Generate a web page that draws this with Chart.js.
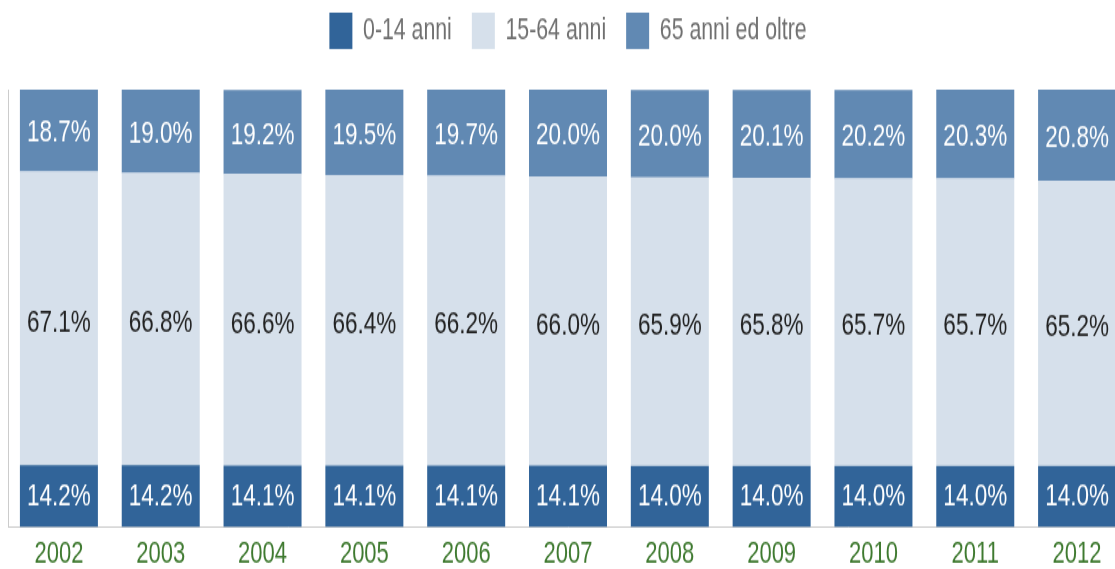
<!DOCTYPE html>
<html>
<head>
<meta charset="utf-8">
<script src="https://cdn.jsdelivr.net/npm/chart.js@4"></script>
<style>
  html, body { margin: 0; padding: 0; background: #ffffff; overflow: hidden; width: 1115px; height: 569px; }
  #wrap { position: absolute; left: 0; top: 0; width: 1128px; height: 407px; transform: scale(1, 1.4); transform-origin: 0 0; }
  canvas { display: block; }
</style>
</head>
<body>
<div id="wrap"><canvas id="c" width="1128" height="407"></canvas></div>
<script>
const years = ['2002','2003','2004','2005','2006','2007','2008','2009','2010','2011','2012'];
const age0to14 = [14.2, 14.2, 14.1, 14.1, 14.1, 14.1, 14.0, 14.0, 14.0, 14.0, 14.0];
const age15to64 = [67.1, 66.8, 66.6, 66.4, 66.2, 66.0, 65.9, 65.8, 65.7, 65.7, 65.2];
const age65plus = [18.7, 19.0, 19.2, 19.5, 19.7, 20.0, 20.0, 20.1, 20.2, 20.3, 20.8];
const seriesNames = ['0-14 anni', '15-64 anni', '65 anni ed oltre'];

const FONT = "'Liberation Sans', Arial, Helvetica, sans-serif";

const legendSpacer = {
  id: 'legendSpacer',
  beforeInit(chart) {
    const origFit = chart.legend.fit;
    chart.legend.fit = function () {
      origFit.call(this);
      this.height += 20;
    };
  }
};

const barLabels = {
  id: 'barLabels',
  afterDatasetsDraw(chart) {
    const ctx = chart.ctx;
    const colors = ['#ffffff', '#222222', '#ffffff'];
    const offsets = [0, 3, 2];
    ctx.save();
    ctx.font = '22.5px ' + FONT;
    ctx.textAlign = 'center';
    ctx.textBaseline = 'middle';
    chart.data.datasets.forEach((ds, i) => {
      const meta = chart.getDatasetMeta(i);
      meta.data.forEach((bar, j) => {
        const p = bar.getProps(['x', 'y', 'base'], true);
        ctx.fillStyle = colors[i];
        ctx.fillText(ds.data[j].toFixed(1) + '%', p.x, (p.y + p.base) / 2 + offsets[i]);
      });
    });
    ctx.restore();
  }
};

new Chart(document.getElementById('c'), {
  type: 'bar',
  data: {
    labels: years,
    datasets: [
      { label: seriesNames[0], data: age0to14, backgroundColor: '#316499' },
      { label: seriesNames[1], data: age15to64, backgroundColor: '#d6e0eb' },
      { label: seriesNames[2], data: age65plus, backgroundColor: '#6189b3' }
    ]
  },
  options: {
    responsive: false,
    animation: false,
    layout: { padding: { top: -11, left: 8, right: 0, bottom: -8 } },
    datasets: { bar: { categoryPercentage: 1.0, barPercentage: 0.766, borderWidth: 0 } },
    scales: {
      x: {
        stacked: true,
        grid: { display: false, drawTicks: false },
        border: { display: true, color: '#cccccc', width: 1 },
        ticks: { color: '#3f7a30', font: { family: FONT, size: 22 }, padding: 6 }
      },
      y: {
        stacked: true,
        min: 0,
        max: 100,
        grid: { display: false, drawTicks: false },
        border: { display: true, color: '#cccccc', width: 1 },
        ticks: { display: false }
      }
    },
    plugins: {
      legend: {
        position: 'top',
        labels: {
          boxWidth: 23,
          boxHeight: 26,
          padding: 20,
          color: '#707070',
          font: { family: FONT, size: 21.3 }
        }
      },
      tooltip: { enabled: false }
    }
  },
  plugins: [
    {
      id: 'legendSpacer',
      beforeInit(chart) {
        const origFit = chart.legend.fit;
        chart.legend.fit = function () {
          origFit.call(this);
          this.height += 19;
        };
      }
    },
    barLabels
  ]
});
</script>
</body>
</html>
